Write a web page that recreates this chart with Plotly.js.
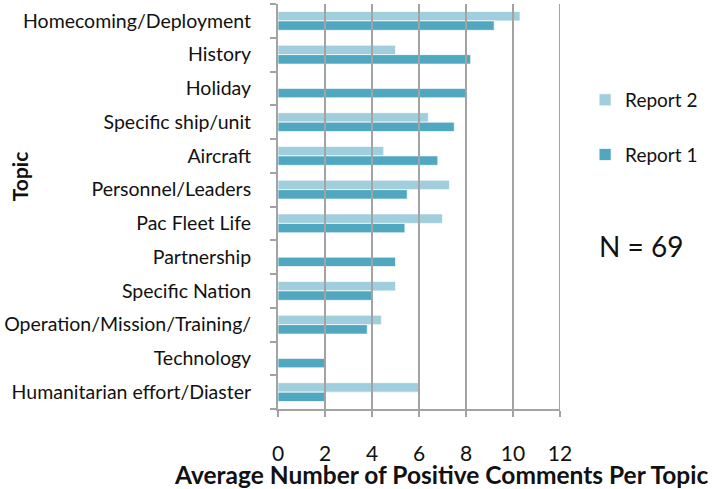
<!DOCTYPE html>
<html>
<head>
<meta charset="utf-8">
<script src="https://cdn.plot.ly/plotly-3.0.1.min.js"></script>
<style>
  html, body { margin: 0; padding: 0; background: #ffffff; }
  #chart { width: 714px; height: 489px; }
</style>
</head>
<body>
<div id="chart"></div>
<script>
// Topics, top to bottom
const topics = [
  "Homecoming/Deployment", "History", "Holiday", "Specific ship/unit", "Aircraft",
  "Personnel/Leaders", "Pac Fleet Life", "Partnership", "Specific Nation",
  "Operation/Mission/Training/Readiness", "Technology", "Humanitarian effort/Diaster Relief"
];
// Labels shown next to the axis (long names wrap and only the first line fits)
const topicLabels = [
  "Homecoming/Deployment", "History", "Holiday", "Specific ship/unit", "Aircraft",
  "Personnel/Leaders", "Pac Fleet Life", "Partnership", "Specific Nation",
  "Operation/Mission/Training/", "Technology", "Humanitarian effort/Diaster"
];
// Average number of positive comments per topic
const report2 = [10.3, 5.0, 0, 6.4, 4.5, 7.3, 7.0, 0, 5.0, 4.4, 0, 6.0];
const report1 = [9.2, 8.2, 8.0, 7.5, 6.8, 5.5, 5.4, 5.0, 4.0, 3.8, 2.0, 2.0];
const xTicks = [0, 2, 4, 6, 8, 10, 12];
const xTickLabels = ["0", "2", "4", "6", "8", "10", "12"];

const FONT = "Lato, 'Open Sans', 'DejaVu Sans', sans-serif";
const GRID = "#a3a3a3";
const LIGHT = "#a0cedd";
const DARK = "#4fa8c0";

const traces = [
  {
    type: "bar", orientation: "h", name: "Report 2",
    y: topics, x: report2, legendgroup: "r2",
    marker: { color: LIGHT, line: { color: "rgba(255,255,255,0.7)", width: 1 } },
    hoverinfo: "x+name"
  },
  {
    type: "bar", orientation: "h", name: "Report 1",
    y: topics, x: report1, legendgroup: "r1",
    marker: { color: DARK, line: { color: "rgba(255,255,255,0.7)", width: 1 } },
    hoverinfo: "x+name"
  }
];

// Vertical gridlines sit on top of the bars
const gridShapes = xTicks.filter(v => v > 0).map(v => ({
  type: "line", xref: "x", yref: "paper", layer: "above",
  x0: v, x1: v, y0: 0, y1: 1,
  line: { color: GRID, width: 2 }
}));

const layout = {
  width: 714, height: 489,
  margin: { l: 278, r: 154, t: 4, b: 80, pad: 0 },
  paper_bgcolor: "#ffffff", plot_bgcolor: "#ffffff",
  font: { family: FONT, color: "#111111" },
  barmode: "group", bargap: 0.44, bargroupgap: 0,
  showlegend: true,
  legend: {
    x: 1.089, xanchor: "left", y: 0.81, yanchor: "top",
    traceorder: "grouped", tracegroupgap: 27,
    font: { size: 19, family: FONT, color: "#111111" },
    bgcolor: "rgba(0,0,0,0)"
  },
  xaxis: {
    range: [0, 12], tickvals: xTicks, ticktext: xTickLabels,
    showgrid: false, zeroline: false,
    showline: true, linecolor: GRID, linewidth: 2,
    ticks: "outside", ticklen: 6, tickwidth: 2, tickcolor: GRID,
    tickfont: { size: 21, family: FONT, color: "#111111" },
    ticklabelstandoff: 19, fixedrange: true
  },
  yaxis: {
    type: "category", autorange: "reversed",
    tickvals: topics, ticktext: topicLabels, tickson: "boundaries",
    showgrid: false, zeroline: false,
    showline: true, linecolor: GRID, linewidth: 2,
    ticks: "outside", ticklen: 6, tickwidth: 2, tickcolor: GRID,
    tickfont: { size: 19.5, family: FONT, color: "#111111" },
    ticklabelstandoff: 21, fixedrange: true
  },
  shapes: gridShapes,
  annotations: [
    {
      text: "<b>Average Number of Positive Comments Per Topic</b>",
      xref: "paper", yref: "paper", x: 0.578, y: -0.162,
      xanchor: "center", yanchor: "middle", showarrow: false,
      font: { size: 24.5, family: FONT, color: "#111111" }
    },
    {
      text: "<b>Topic</b>",
      xref: "paper", yref: "paper", x: -0.918, y: 0.575, textangle: -90,
      xanchor: "center", yanchor: "middle", showarrow: false,
      font: { size: 21, family: FONT, color: "#111111" }
    },
    {
      text: "N = 69",
      xref: "paper", yref: "paper", x: 1.287, y: 0.402,
      xanchor: "center", yanchor: "middle", showarrow: false,
      font: { size: 28, family: FONT, color: "#111111" }
    }
  ]
};

Plotly.newPlot("chart", traces, layout, { staticPlot: true, displayModeBar: false });
</script>
</body>
</html>
